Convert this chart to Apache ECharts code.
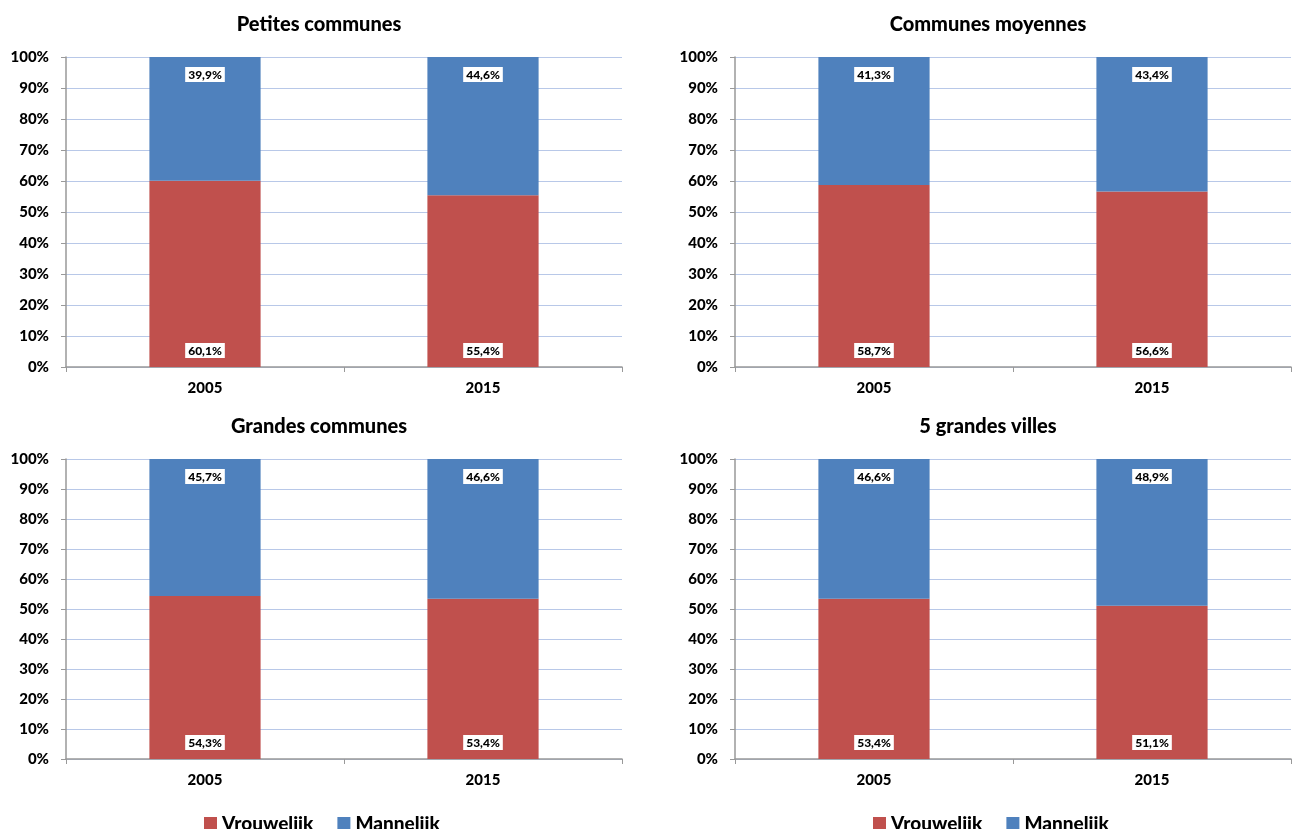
<!DOCTYPE html>
<html><head><meta charset="utf-8">
<script src="https://cdn.jsdelivr.net/npm/echarts@6/dist/echarts.min.js"></script>
<style>html,body{margin:0;padding:0;background:#fff}#c{width:1293px;height:829px}</style>
</head><body><div id="c"></div>
<script>
const panelTitles = ['Petites communes', 'Communes moyennes', 'Grandes communes', '5 grandes villes'];
const categories = ['2005', '2015'];
const seriesNames = ['Vrouwelijk', 'Mannelijk'];
const vrouwelijk = [[60.1, 55.4], [58.7, 56.6], [54.3, 53.4], [53.4, 51.1]];
const mannelijk = [[39.9, 44.6], [41.3, 43.4], [45.7, 46.6], [46.6, 48.9]];
const yTicks = [0, 10, 20, 30, 40, 50, 60, 70, 80, 90, 100];

const RED = '#C0504D', BLUE = '#4F81BD';
const FONT = 'Lato';
const grids = [
  {left: 66, width: 556, top: 57, height: 310},
  {left: 735, width: 556, top: 57, height: 310},
  {left: 66, width: 556, top: 459, height: 300},
  {left: 735, width: 556, top: 459, height: 300}
];
const titleTops = [10, 10, 412, 412];
const fmt = v => v.toFixed(1).replace('.', ',') + '%';

const legendText = {fontFamily: FONT, fontWeight: 900, fontSize: 19, color: '#000'};
const option = {
  animation: false,
  textStyle: {fontFamily: FONT},
  title: panelTitles.map((t, i) => ({
    text: t, left: grids[i].left + grids[i].width / 2 - 30, top: titleTops[i], textAlign: 'center',
    textStyle: {fontFamily: FONT, fontWeight: 900, fontSize: 20, color: '#000'}
  })),
  legend: [
    {data: seriesNames, left: 199, top: 809, itemWidth: 13, itemHeight: 13, itemGap: 24, icon: 'rect', textStyle: legendText},
    {data: seriesNames, left: 868, top: 809, itemWidth: 13, itemHeight: 13, itemGap: 24, icon: 'rect', textStyle: legendText}
  ],
  grid: grids,
  xAxis: grids.map((g, i) => ({
    type: 'category', gridIndex: i, data: categories, boundaryGap: true,
    axisLine: {lineStyle: {color: '#999', width: 1.5}},
    axisTick: {show: true, alignWithLabel: false, length: 5, lineStyle: {color: '#999'}},
    axisLabel: {fontFamily: FONT, fontWeight: 900, fontSize: 15, color: '#000', margin: 14}
  })),
  yAxis: grids.map((g, i) => ({
    type: 'value', gridIndex: i, min: 0, max: 100, interval: 10,
    axisLine: {show: true, lineStyle: {color: '#999', width: 1.5}},
    axisTick: {show: true, length: 5, lineStyle: {color: '#999'}},
    splitLine: {lineStyle: {color: '#B8C8E8', width: 1}},
    axisLabel: {fontFamily: FONT, fontWeight: 900, fontSize: 15, color: '#000', margin: 17,
      formatter: v => v + '%'}
  })),
  series: []
};

const labelBase = {show: true, fontFamily: FONT, fontWeight: 900, fontSize: 12, color: '#000',
  backgroundColor: '#fff', padding: [2, 3, 1, 3]};
for (let i = 0; i < 4; i++) {
  option.series.push({
    name: seriesNames[0], type: 'bar', stack: 's' + i, xAxisIndex: i, yAxisIndex: i,
    data: vrouwelijk[i], barWidth: '40%', itemStyle: {color: RED},
    label: Object.assign({}, labelBase, {position: 'insideBottom', distance: 9, formatter: p => fmt(p.value)})
  });
  option.series.push({
    name: seriesNames[1], type: 'bar', stack: 's' + i, xAxisIndex: i, yAxisIndex: i,
    data: mannelijk[i], barWidth: '40%', itemStyle: {color: BLUE},
    label: Object.assign({}, labelBase, {position: 'insideTop', distance: 10, formatter: p => fmt(p.value)})
  });
}
echarts.init(document.getElementById('c')).setOption(option);
</script></body></html>
